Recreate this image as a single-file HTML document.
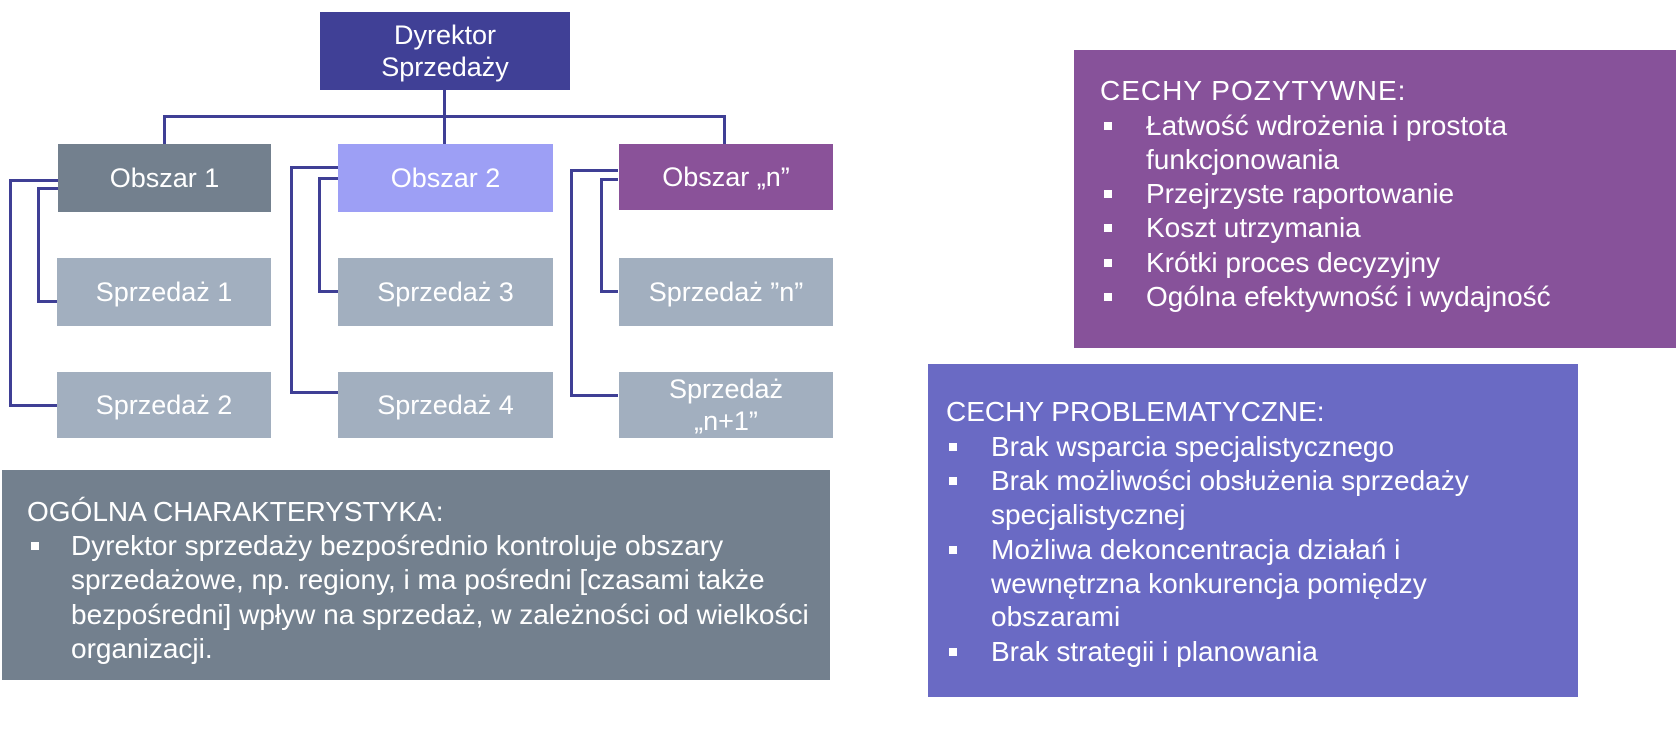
<!DOCTYPE html>
<html><head><meta charset="utf-8"><style>
body{margin:0;width:1676px;height:742px;background:#fff;position:relative;overflow:hidden;font-family:"Liberation Sans",Arial,sans-serif;color:#fff}
.b{position:absolute;display:flex;align-items:center;justify-content:center;text-align:center;font-size:27px;line-height:32px}
.l{position:absolute;background:#3f3f95}
.t{position:absolute;font-size:28px;line-height:34px;white-space:nowrap}
.s{position:absolute;width:8px;height:8px;background:#fff}
</style></head><body>
<div class="l" style="left:443px;top:89px;width:3px;height:56px"></div>
<div class="l" style="left:163px;top:115px;width:563px;height:3px"></div>
<div class="l" style="left:163px;top:115px;width:3px;height:30px"></div>
<div class="l" style="left:723px;top:115px;width:3px;height:30px"></div>
<div class="l" style="left:9px;top:179px;width:49px;height:3px"></div>
<div class="l" style="left:9px;top:179px;width:3px;height:228px"></div>
<div class="l" style="left:9px;top:404px;width:49px;height:3px"></div>
<div class="l" style="left:37px;top:187px;width:21px;height:3px"></div>
<div class="l" style="left:37px;top:187px;width:3px;height:116px"></div>
<div class="l" style="left:37px;top:300px;width:21px;height:3px"></div>
<div class="l" style="left:290px;top:166px;width:48px;height:3px"></div>
<div class="l" style="left:290px;top:166px;width:3px;height:228px"></div>
<div class="l" style="left:290px;top:391px;width:48px;height:3px"></div>
<div class="l" style="left:318px;top:177px;width:20px;height:3px"></div>
<div class="l" style="left:318px;top:177px;width:3px;height:116px"></div>
<div class="l" style="left:318px;top:290px;width:20px;height:3px"></div>
<div class="l" style="left:570px;top:169px;width:48px;height:3px"></div>
<div class="l" style="left:570px;top:169px;width:3px;height:228px"></div>
<div class="l" style="left:570px;top:394px;width:48px;height:3px"></div>
<div class="l" style="left:600px;top:178px;width:18px;height:3px"></div>
<div class="l" style="left:600px;top:178px;width:3px;height:115px"></div>
<div class="l" style="left:600px;top:290px;width:18px;height:3px"></div>

<div class="b" style="left:320px;top:12px;width:250px;height:78px;background:#404096">Dyrektor<br>Sprzedaży</div>
<div class="b" style="left:58px;top:144px;width:213px;height:68px;background:#73808e">Obszar 1</div>
<div class="b" style="left:338px;top:144px;width:215px;height:68px;background:#9d9ff5">Obszar 2</div>
<div class="b" style="left:619px;top:144px;width:214px;height:66px;background:#8a5299">Obszar „n”</div>
<div class="b" style="left:57px;top:258px;width:214px;height:68px;background:#a2afbf">Sprzedaż 1</div>
<div class="b" style="left:338px;top:258px;width:215px;height:68px;background:#a2afbf">Sprzedaż 3</div>
<div class="b" style="left:619px;top:258px;width:214px;height:68px;background:#a2afbf">Sprzedaż ”n”</div>
<div class="b" style="left:57px;top:372px;width:214px;height:66px;background:#a2afbf">Sprzedaż 2</div>
<div class="b" style="left:338px;top:372px;width:215px;height:66px;background:#a2afbf">Sprzedaż 4</div>
<div class="b" style="left:619px;top:372px;width:214px;height:66px;background:#a2afbf">Sprzedaż<br>„n+1”</div>

<div style="position:absolute;left:2px;top:470px;width:828px;height:210px;background:#73808e"></div>
<div class="t" style="left:27px;top:495px">OGÓLNA CHARAKTERYSTYKA:</div>
<div class="s" style="left:31px;top:542px"></div>
<div class="t" style="left:71px;top:529px">Dyrektor sprzedaży bezpośrednio kontroluje obszary</div>
<div class="t" style="left:71px;top:563px">sprzedażowe, np. regiony, i ma pośredni [czasami także</div>
<div class="t" style="left:71px;top:598px">bezpośredni] wpływ na sprzedaż, w zależności od wielkości</div>
<div class="t" style="left:71px;top:632px">organizacji.</div>

<div style="position:absolute;left:1074px;top:50px;width:602px;height:298px;background:#87529a"></div>
<div class="t" style="left:1100px;top:74px;letter-spacing:1px">CECHY POZYTYWNE:</div>
<div class="s" style="left:1104px;top:122px"></div>
<div class="t" style="left:1146px;top:109px">Łatwość wdrożenia i prostota</div>
<div class="t" style="left:1146px;top:143px">funkcjonowania</div>
<div class="s" style="left:1104px;top:190px"></div>
<div class="t" style="left:1146px;top:177px">Przejrzyste raportowanie</div>
<div class="s" style="left:1104px;top:224px"></div>
<div class="t" style="left:1146px;top:211px">Koszt utrzymania</div>
<div class="s" style="left:1104px;top:259px"></div>
<div class="t" style="left:1146px;top:246px">Krótki proces decyzyjny</div>
<div class="s" style="left:1104px;top:293px"></div>
<div class="t" style="left:1146px;top:280px">Ogólna efektywność i wydajność</div>

<div style="position:absolute;left:928px;top:364px;width:650px;height:333px;background:#6a6ac4"></div>
<div class="t" style="left:946px;top:395px">CECHY PROBLEMATYCZNE:</div>
<div class="s" style="left:949px;top:443px"></div>
<div class="t" style="left:991px;top:430px">Brak wsparcia specjalistycznego</div>
<div class="s" style="left:949px;top:477px"></div>
<div class="t" style="left:991px;top:464px">Brak możliwości obsłużenia sprzedaży</div>
<div class="t" style="left:991px;top:498px">specjalistycznej</div>
<div class="s" style="left:949px;top:546px"></div>
<div class="t" style="left:991px;top:533px">Możliwa dekoncentracja działań i</div>
<div class="t" style="left:991px;top:567px">wewnętrzna konkurencja pomiędzy</div>
<div class="t" style="left:991px;top:600px">obszarami</div>
<div class="s" style="left:949px;top:648px"></div>
<div class="t" style="left:991px;top:635px">Brak strategii i planowania</div>
</body></html>
